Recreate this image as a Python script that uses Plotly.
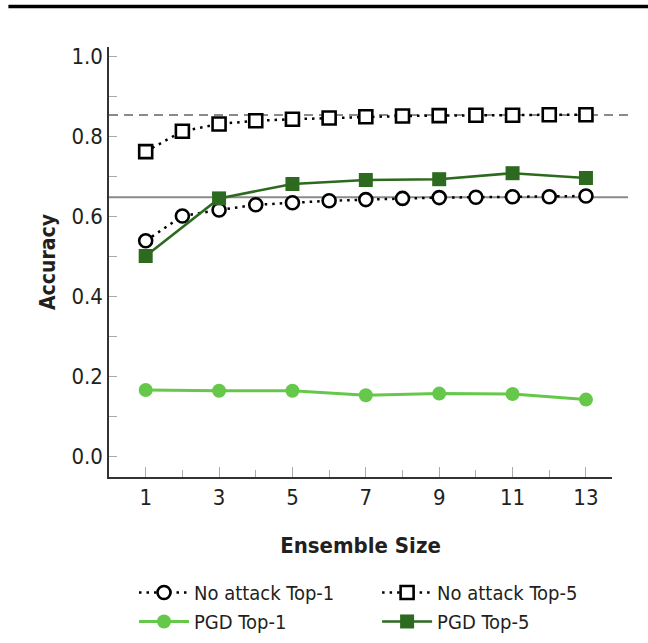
import plotly.graph_objects as go

# Ensemble sizes
ensemble_all = [1, 2, 3, 4, 5, 6, 7, 8, 9, 10, 11, 12, 13]
ensemble_odd = [1, 3, 5, 7, 9, 11, 13]

# Clean accuracy (no attack)
no_attack_top1 = [0.538, 0.600, 0.615, 0.628, 0.633, 0.638, 0.641,
                  0.644, 0.646, 0.647, 0.648, 0.648, 0.650]
no_attack_top5 = [0.761, 0.812, 0.830, 0.838, 0.842, 0.845, 0.848,
                  0.850, 0.851, 0.852, 0.852, 0.853, 0.853]

# Accuracy under PGD attack
pgd_top1 = [0.165, 0.163, 0.163, 0.152, 0.156, 0.155, 0.141]
pgd_top5 = [0.500, 0.644, 0.680, 0.690, 0.692, 0.707, 0.695]

# Reference accuracies (horizontal guides)
ref_top5 = 0.8525
ref_top1 = 0.647

y_tickvals = [0.0, 0.2, 0.4, 0.6, 0.8, 1.0]
y_ticktext = ["0.0", "0.2", "0.4", "0.6", "0.8", "1.0"]
x_tickvals = [1, 3, 5, 7, 9, 11, 13]
x_ticktext = ["1", "3", "5", "7", "9", "11", "13"]

FONT = "Liberation Sans Narrow, DejaVu Sans Condensed, Roboto, sans-serif"
TEXT = "#231f20"
LIGHT_GREEN = "#66c84a"
DARK_GREEN = "#2c6a1f"
DOTS = "2.5px,5px"

fig = go.Figure()

# Left legend column: Top-1 series; right column: Top-5 series
fig.add_trace(go.Scatter(
    x=ensemble_all, y=no_attack_top1, name="No attack Top-1",
    mode="lines+markers", legend="legend",
    line=dict(color="black", width=2.5, dash=DOTS),
    marker=dict(symbol="circle", size=13, color="white",
                line=dict(color="black", width=2.6)),
))
fig.add_trace(go.Scatter(
    x=ensemble_all, y=no_attack_top5, name="No attack Top-5",
    mode="lines+markers", legend="legend2",
    line=dict(color="black", width=2.5, dash=DOTS),
    marker=dict(symbol="square", size=13, color="white",
                line=dict(color="black", width=2.6)),
))
fig.add_trace(go.Scatter(
    x=ensemble_odd, y=pgd_top1, name="PGD Top-1",
    mode="lines+markers", legend="legend",
    line=dict(color=LIGHT_GREEN, width=3),
    marker=dict(symbol="circle", size=14, color=LIGHT_GREEN),
))
fig.add_trace(go.Scatter(
    x=ensemble_odd, y=pgd_top5, name="PGD Top-5",
    mode="lines+markers", legend="legend2",
    line=dict(color=DARK_GREEN, width=2.6),
    marker=dict(symbol="square", size=14, color=DARK_GREEN),
))

# Horizontal guides, running slightly past the end of the x axis
fig.add_shape(type="line", xref="paper", yref="y", x0=0, x1=1.032,
              y0=ref_top5, y1=ref_top5, layer="below",
              line=dict(color="#8a8a8a", width=2, dash="9px,6px"))
fig.add_shape(type="line", xref="paper", yref="y", x0=0, x1=1.032,
              y0=ref_top1, y1=ref_top1, layer="below",
              line=dict(color="#8a8a8a", width=2))

# Heavy rule across the top of the figure
fig.add_shape(type="line", xref="paper", yref="paper", x0=-0.2, x1=1.08,
              y0=1.094, y1=1.094, line=dict(color="black", width=3.5))

legend_style = dict(
    orientation="v", yref="container", xref="paper",
    yanchor="top", xanchor="left", y=0.1089,
    font=dict(family=FONT, size=20, color=TEXT),
    itemwidth=50, tracegroupgap=0, bgcolor="rgba(0,0,0,0)",
)

fig.update_layout(
    width=648, height=643,
    margin=dict(l=109, r=36, t=47, b=166),
    paper_bgcolor="white", plot_bgcolor="white",
    font=dict(family=FONT, color=TEXT, size=22),
    showlegend=True,
    legend=dict(x=0.0497, **legend_style),
    legend2=dict(x=0.533, **legend_style),
)

fig.update_xaxes(
    range=[0, 13.71], tickvals=x_tickvals, ticktext=x_ticktext,
    showline=True, linecolor="#333333", linewidth=1.5, mirror=False,
    ticks="inside", ticklen=10, tickwidth=1, tickcolor="#aaaaaa",
    minor=dict(tickvals=ensemble_all, ticks="inside", ticklen=7,
               tickwidth=1, tickcolor="#aaaaaa"),
    showgrid=False, zeroline=False,
    tickfont=dict(size=22, family=FONT, color=TEXT),
    title=dict(text="<b>Ensemble Size</b>", standoff=28,
               font=dict(size=22, family=FONT, color=TEXT)),
)
fig.update_yaxes(
    range=[-0.0525, 1.0225], tickvals=y_tickvals, ticktext=y_ticktext,
    showline=True, linecolor="#333333", linewidth=1.5,
    ticks="inside", ticklen=8, tickwidth=1, tickcolor="#aaaaaa",
    minor=dict(dtick=0.1, tick0=0, ticks="inside", ticklen=8,
               tickwidth=1, tickcolor="#aaaaaa"),
    showgrid=False, zeroline=False,
    tickfont=dict(size=22, family=FONT, color=TEXT),
    title=dict(text="<b>Accuracy</b>", standoff=10,
               font=dict(size=21, family=FONT, color=TEXT)),
)

fig.write_html("out.html")
